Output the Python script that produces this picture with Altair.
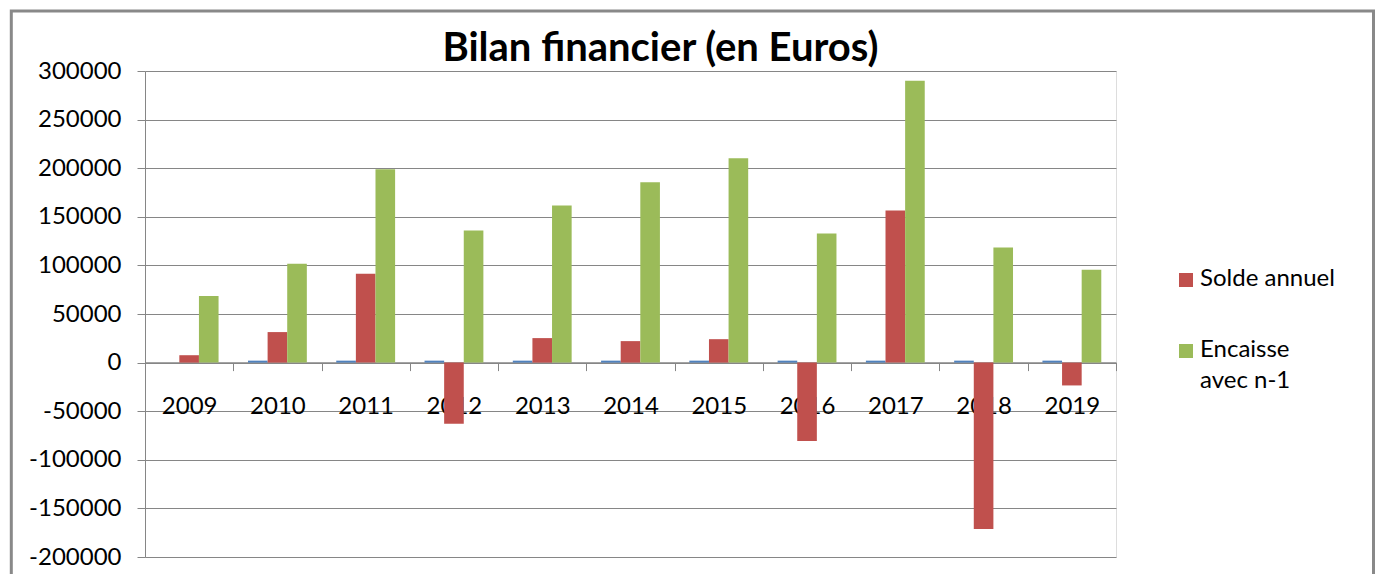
import altair as alt
import pandas as pd

years = ["2009", "2010", "2011", "2012", "2013", "2014", "2015", "2016", "2017", "2018", "2019"]
annee = [None, 2010, 2011, 2012, 2013, 2014, 2015, 2016, 2017, 2018, 2019]
solde = [7600, 31400, 91400, -62900, 25200, 22100, 24100, -80600, 156600, -171100, -23500]
encaisse = [68600, 101700, 199000, 135900, 161700, 185500, 210300, 132800, 290000, 118300, 95500]
series_names = ["Année", "Solde annuel", "Encaisse avec n-1"]
series_colors = ["#4F81BD", "#C0504D", "#9BBB59"]
y_ticks = list(range(-200000, 300001, 50000))

rows = []
for i, yr in enumerate(years):
    for name, vals in zip(series_names, [annee, solde, encaisse]):
        rows.append({"year": yr, "serie": name, "value": vals[i]})
df = pd.DataFrame(rows)

FONT = "Lato"
GRAY = "#868686"
ONE = alt.Data(values=[{"a": 1}])

bars = alt.Chart(df).mark_bar().encode(
    x=alt.X(
        "year:N", sort=years, title=None,
        scale=alt.Scale(paddingInner=0, paddingOuter=0),
        axis=alt.Axis(
            orient="bottom", offset=-194.4, tickBand="extent", labelAngle=0,
            domainColor=GRAY, domainWidth=1.5, tickColor=GRAY, tickSize=8, tickWidth=1,
            labelPadding=24, labelFontSize=24, labelFont=FONT, labelColor="black", grid=False,
        ),
    ),
    xOffset=alt.XOffset("serie:N", sort=series_names,
                        scale=alt.Scale(paddingOuter=0.75, paddingInner=0)),
    y=alt.Y(
        "value:Q", title=None,
        scale=alt.Scale(domain=[-200000, 300000], nice=False, zero=False),
        axis=alt.Axis(
            values=y_ticks, labelExpr="'' + datum.value",
            domainColor=GRAY, domainWidth=1, tickColor=GRAY, tickSize=8,
            gridColor=GRAY, gridWidth=1, labelPadding=16,
            labelFontSize=24, labelFont=FONT, labelColor="black",
        ),
    ),
    color=alt.Color(
        "serie:N",
        scale=alt.Scale(domain=series_names, range=series_colors),
        legend=None,
    ),
)

frame = alt.Chart(ONE).mark_rect(
    filled=False, stroke="#898989", strokeWidth=3
).encode(
    x=alt.value(-133.7), x2=alt.value(1228.5), y=alt.value(-60), y2=alt.value(700)
)

# legend (drawn as marks, to match the spreadsheet layout)
sym1 = alt.Chart(ONE).mark_square(size=196, color=series_colors[1], opacity=1).encode(
    x=alt.value(1041), y=alt.value(209))
sym2 = alt.Chart(ONE).mark_square(size=196, color=series_colors[2], opacity=1).encode(
    x=alt.value(1041), y=alt.value(280))
lab_kw = dict(font=FONT, fontSize=24, color="black", align="left", baseline="middle")
lab1 = alt.Chart(ONE).mark_text(**lab_kw).encode(
    x=alt.value(1055), y=alt.value(208), text=alt.value(series_names[1]))
lab2a = alt.Chart(ONE).mark_text(**lab_kw).encode(
    x=alt.value(1055), y=alt.value(279), text=alt.value("Encaisse"))
lab2b = alt.Chart(ONE).mark_text(**lab_kw).encode(
    x=alt.value(1055), y=alt.value(310), text=alt.value("avec n-1"))

chart = alt.layer(frame, bars, sym1, sym2, lab1, lab2a, lab2b).properties(
    width=971,
    height=486,
    title=alt.TitleParams(
        "Bilan financier (en Euros)", font=FONT, fontSize=40, fontWeight="bold",
        color="black", dx=30, offset=-99, baseline="bottom", frame="group",
    ),
    autosize=alt.AutoSizeParams(type="none"),
    padding={"left": 137, "top": 63, "right": 259, "bottom": 17},
).configure_view(stroke=None).configure(background="white")

chart.save("out.html", embed_options={"renderer": "svg", "actions": False})
